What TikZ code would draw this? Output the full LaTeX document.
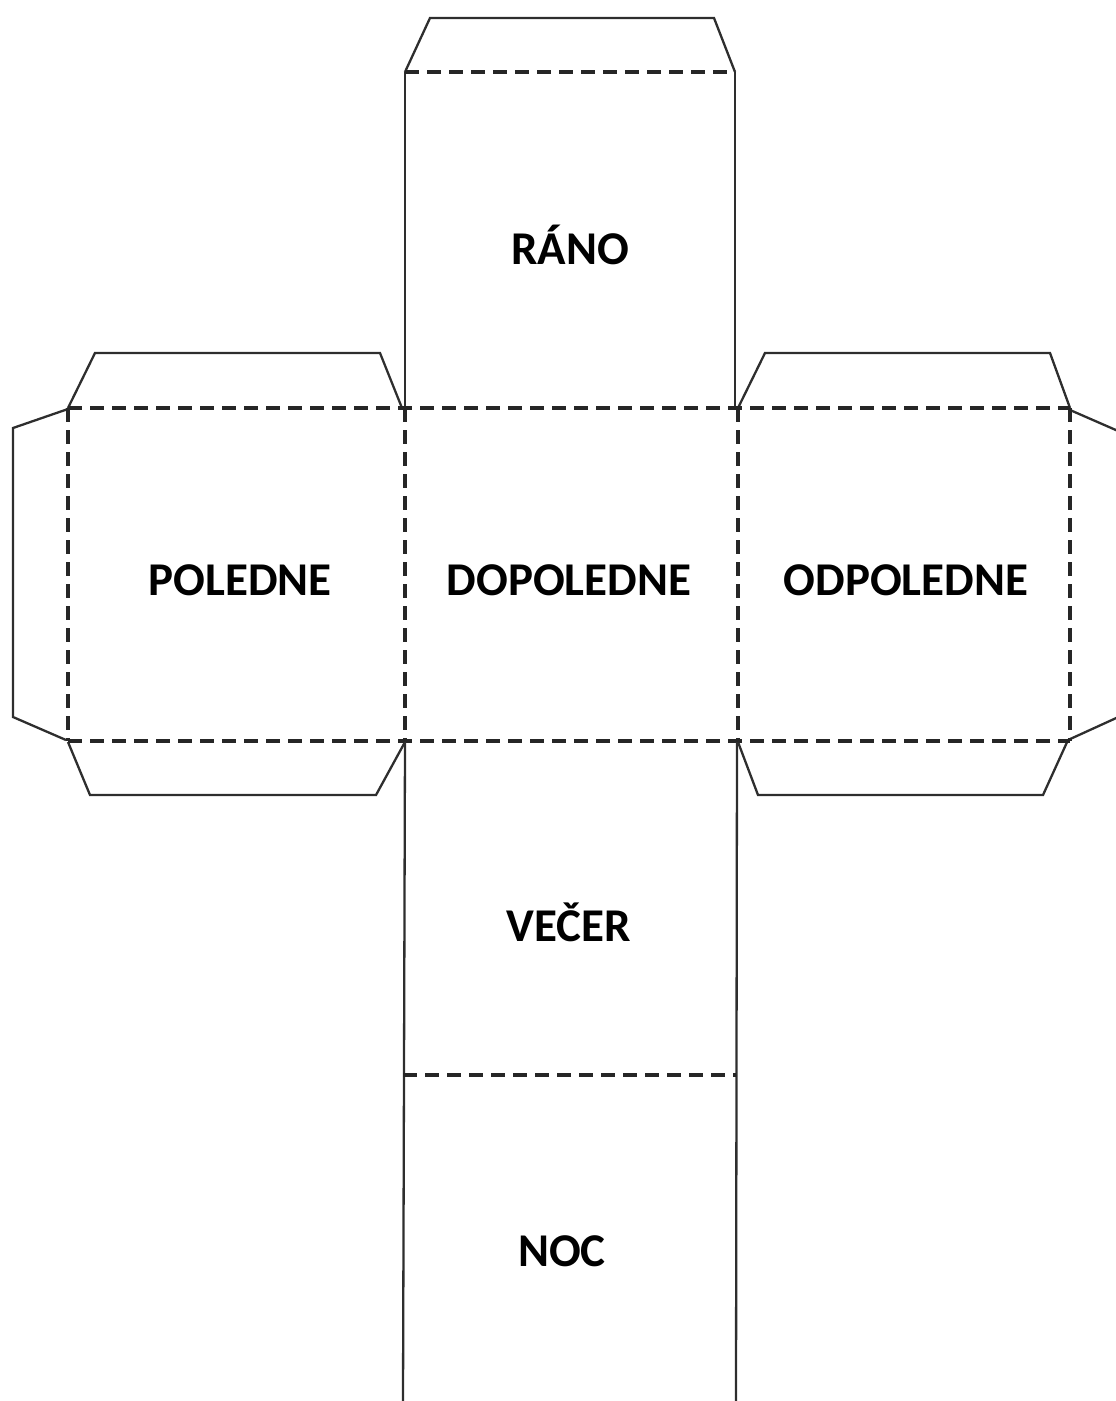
\documentclass[tikz,border=0pt]{standalone}
\usepackage{fontspec}
\setmainfont{Carlito}
\begin{document}
\begin{tikzpicture}[x=1pt, y=-1pt,
    cut/.style={line width=2.3pt, color=black!82},
    fold/.style={line width=3.4pt, color=black!85, dash pattern=on 14pt off 8pt},
    label/.style={font=\bfseries\fontsize{47}{47}\selectfont}]
    \useasboundingbox (0,0) rectangle (1116,1401);
    \clip (0,0) rectangle (1116,1401);

    % Top tab and RANO face
    \draw[cut] (405,72) -- (430,18) -- (714,18) -- (735,72);
    \draw[cut] (405,72) -- (405,408);
    \draw[cut] (735,72) -- (735,408);
    \draw[fold] (405,72) -- (735,72);
    \node[label] (rano) at (570,245) {RÁNO};

    % Left face with its tabs
    \draw[cut] (68,408) -- (95,353) -- (380,353) -- (402,408);
    \draw[cut] (68,742) -- (90,795) -- (376,795) -- (405,742);
    \draw[cut] (68,409) -- (13,428) -- (13,717) -- (66,740);
    \node[label] (poledne) at (240,580) {POLEDNE};

    % Right face with its tabs
    \draw[cut] (738,408) -- (765,353) -- (1050,353) -- (1070,408);
    \draw[cut] (738,742) -- (758,795) -- (1043,795) -- (1068,740);
    \draw[cut] (1070,410) -- (1125,434);
    \draw[cut] (1068,740) -- (1125,714);
    \node[label] (odpoledne) at (906,580) {ODPOLEDNE};

    % Middle row folds
    \draw[fold] (68,408) -- (1070,408);
    \draw[fold] (68,741) -- (1070,741);
    \foreach \x in {68,405,738,1070}
        \draw[fold] (\x,408) -- (\x,741);
    \node[label] (dopoledne) at (569,580) {DOPOLEDNE};

    % VECER and NOC faces
    \draw[cut] (405,742) -- (403,1401);
    \draw[cut] (737,742) -- (736,1401);
    \draw[fold] (403,1075) -- (736,1075);
    \node[label] (vecer) at (569,922) {VEČER};
    \node[label] (noc) at (562,1251) {NOC};
\end{tikzpicture}
\end{document}
